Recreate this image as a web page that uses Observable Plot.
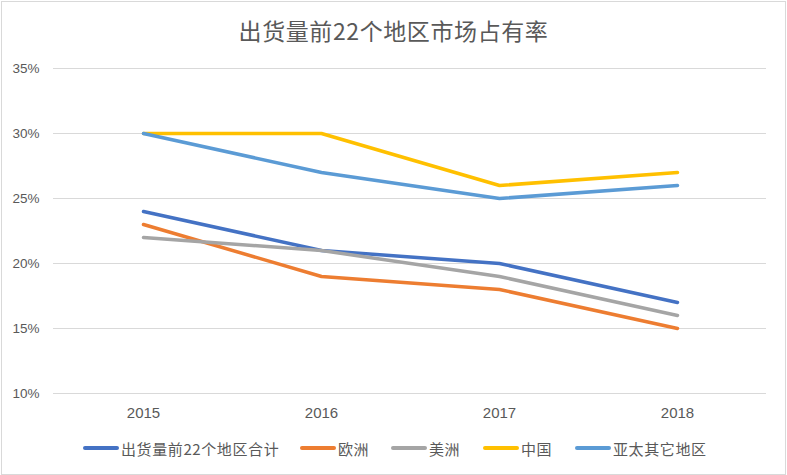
<!DOCTYPE html>
<html>
<head>
<meta charset="utf-8">
<script src="https://cdn.jsdelivr.net/npm/d3@7"></script>
<script src="https://cdn.jsdelivr.net/npm/@observablehq/plot@0.6"></script>
<style>
  html, body { margin: 0; padding: 0; background: #fff; }
  #chart { position: relative; width: 787px; height: 475px; overflow: hidden; background: #fff; }
  #chart svg { position: absolute; left: 0; top: 0; }
  #border { position: absolute; left: 1px; top: 1px; width: 783px; height: 472px; border: 1px solid #D9D9D9; pointer-events: none; }
  #title { position: absolute; left: 0; top: 15px; width: 787px; text-align: center; font-family: "Noto Sans CJK SC", sans-serif; font-size: 23px; line-height: 30px; color: #595959; letter-spacing: 0.6px; }
  .leg { position: absolute; top: 438px; height: 20px; display: flex; align-items: center; font-family: "Noto Sans CJK SC", sans-serif; font-size: 15px; letter-spacing: 0.6px; color: #595959; white-space: nowrap; }
  .sw { width: 36px; height: 4px; border-radius: 2px; margin-right: 2px; }
</style>
</head>
<body>
<div id="chart">
  <div id="title"></div>
  <div id="border"></div>
</div>
<script>
const titleText = "出货量前22个地区市场占有率";
const years = ["2015", "2016", "2017", "2018"];
const seriesNames = ["出货量前22个地区合计", "欧洲", "美洲", "中国", "亚太其它地区"];
const seriesColors = ["#4472C4", "#ED7D31", "#A5A5A5", "#FFC000", "#5B9BD5"];
const totalTop22 = [0.24, 0.21, 0.20, 0.17];
const europe = [0.23, 0.19, 0.18, 0.15];
const americas = [0.22, 0.21, 0.19, 0.16];
const china = [0.30, 0.30, 0.26, 0.27];
const asiaPacificOther = [0.30, 0.27, 0.25, 0.26];
const yTicks = [0.10, 0.15, 0.20, 0.25, 0.30, 0.35];
const legendLeft = [83, 300, 391, 483, 575];

const seriesValues = [totalTop22, europe, americas, china, asiaPacificOther];
const data = [];
seriesNames.forEach((name, i) => {
  years.forEach((yr, j) => data.push({ series: name, year: yr, value: seriesValues[i][j] }));
});

const plot = Plot.plot({
  width: 787,
  height: 475,
  marginTop: 68,
  marginBottom: 82,
  marginLeft: 53,
  marginRight: 21,
  style: { fontFamily: "'Liberation Sans', Arial, sans-serif", fontSize: "14px", color: "#595959", background: "transparent" },
  x: { type: "point", domain: years, padding: 0.5 },
  y: { domain: [0.10, 0.35] },
  color: { domain: seriesNames, range: seriesColors },
  marks: [
    Plot.gridY(yTicks, { stroke: "#D9D9D9", strokeOpacity: 1, strokeWidth: 1.2 }),
    Plot.axisY(yTicks, { tickSize: 0, tickPadding: 14, tickFormat: d => Math.round(d * 100) + "%", label: null, fontSize: 13.5 }),
    Plot.axisX({ tickSize: 0, tickPadding: 14, label: null, fontSize: 15 }),
    Plot.line(data, { x: "year", y: "value", z: "series", stroke: "series", strokeWidth: 3.5, strokeLinecap: "round", strokeLinejoin: "round" })
  ]
});

const chart = document.getElementById("chart");
chart.insertBefore(plot, chart.firstChild);
document.getElementById("title").textContent = titleText;

seriesNames.forEach((name, i) => {
  const item = document.createElement("div");
  item.className = "leg";
  item.style.left = legendLeft[i] + "px";
  const sw = document.createElement("div");
  sw.className = "sw";
  sw.style.background = seriesColors[i];
  const t = document.createElement("span");
  t.textContent = name;
  item.appendChild(sw);
  item.appendChild(t);
  chart.appendChild(item);
});
</script>
</body>
</html>
